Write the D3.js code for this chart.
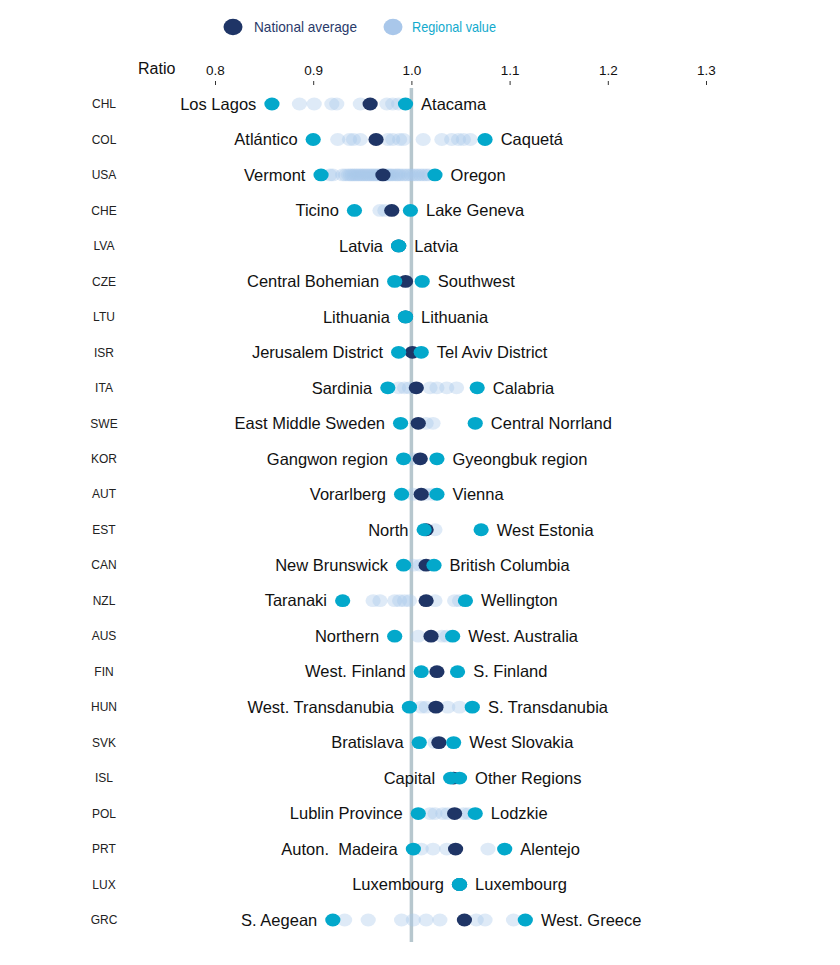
<!DOCTYPE html>
<html><head><meta charset="utf-8">
<script src="https://cdn.jsdelivr.net/npm/d3@7"></script>
<style>
body{margin:0;background:#fff;}
svg{display:block;font-family:"Liberation Sans",Arial,sans-serif;}
</style></head>
<body><svg id="c" width="840" height="965"></svg>
<script>
const countries = ["CHL","COL","USA","CHE","LVA","CZE","LTU","ISR","ITA","SWE","KOR","AUT","EST","CAN","NZL","AUS","FIN","HUN","SVK","ISL","POL","PRT","LUX","GRC"];
const nationalAvg = [0.958,0.964,0.971,0.980,0.987,0.994,0.994,1.001,1.005,1.007,1.009,1.010,1.015,1.015,1.015,1.020,1.026,1.025,1.028,1.043,1.044,1.045,1.049,1.054];
const minRegion = ["Los Lagos","Atlántico","Vermont","Ticino","Latvia","Central Bohemian","Lithuania","Jerusalem District","Sardinia","East Middle Sweden","Gangwon region","Vorarlberg","North","New Brunswick","Taranaki","Northern","West. Finland","West. Transdanubia","Bratislava","Capital","Lublin Province","Auton.  Madeira","Luxembourg","S. Aegean"];
const minValue = [0.858,0.900,0.908,0.942,0.987,0.983,0.994,0.987,0.976,0.989,0.992,0.990,1.013,0.992,0.930,0.983,1.010,0.998,1.008,1.040,1.007,1.002,1.049,0.920];
const maxRegion = ["Atacama","Caquetá","Oregon","Lake Geneva","Latvia","Southwest","Lithuania","Tel Aviv District","Calabria","Central Norrland","Gyeongbuk region","Vienna","West Estonia","British Columbia","Wellington","West. Australia","S. Finland","S. Transdanubia","West Slovakia","Other Regions","Lodzkie","Alentejo","Luxembourg","West. Greece"];
const maxValue = [0.994,1.075,1.024,0.999,0.987,1.011,0.994,1.010,1.067,1.065,1.026,1.026,1.071,1.023,1.055,1.042,1.047,1.062,1.043,1.049,1.065,1.095,1.049,1.116];
const otherRegions = [
  [0.886,0.901,0.919,0.924,0.948,0.975,0.981,0.987],
  [0.925,0.937,0.941,0.948,0.976,0.981,0.988,0.992,1.012,1.031,1.041,1.048,1.053,1.060],
  [0.917,0.920,0.930,0.933,0.936,0.938,0.940,0.942,0.944,0.946,0.948,0.950,0.952,0.954,0.956,0.958,0.960,0.962,0.964,0.966,0.968,0.970,0.973,0.975,0.977,0.979,0.981,0.984,0.986,0.988,0.991,0.994,0.997,1.000,1.003,1.006,1.009,1.012,1.015,1.018],
  [0.968,0.973],
  [],
  [],
  [],
  [],
  [0.987,0.993,0.998,1.019,1.026,1.036,1.046],
  [1.015,1.022],
  [1.002],
  [1.002,1.015,1.021],
  [1.024],
  [1.002,1.009],
  [0.961,0.968,0.983,0.988,0.993,0.998,1.024,1.044,1.049],
  [1.007,1.031,1.036],
  [],
  [1.010,1.015,1.037,1.049],
  [1.024],
  [],
  [1.019,1.024,1.032,1.037,1.053,1.058],
  [1.010,1.022,1.036,1.078],
  [],
  [0.932,0.956,0.990,1.002,1.015,1.029,1.066,1.075,1.104]
];
const tickValues = [0.8,0.9,1.0,1.1,1.2,1.3];
const legendLabels = ["National average","Regional value"];

const NAVY = "#1f3566", CYAN = "#03a8cb", LIGHT = "#a9c7ea", REF = "#b7c7ce";
const svg = d3.select("#c");
const x = d3.scaleLinear().domain([0.8,1.3]).range([215,706]);
const y = d3.scalePoint().domain(countries).range([104,920]);
const RX = 7.6, RY = 6.4;

// legend
const lg = svg.append("g");
lg.append("ellipse").attr("cx",233).attr("cy",27).attr("rx",9.5).attr("ry",8.2).attr("fill",NAVY);
lg.append("text").attr("x",254).attr("y",27).attr("dy","0.35em").attr("font-size",15)
  .attr("textLength",103).attr("lengthAdjust","spacingAndGlyphs").attr("fill","#2a3a6a").text(legendLabels[0]);
lg.append("ellipse").attr("cx",393).attr("cy",27).attr("rx",9.5).attr("ry",8.2).attr("fill",LIGHT);
lg.append("text").attr("x",412).attr("y",27).attr("dy","0.35em").attr("font-size",15)
  .attr("textLength",84).attr("lengthAdjust","spacingAndGlyphs").attr("fill","#12aacd").text(legendLabels[1]);

// axis
const ax = svg.append("g").attr("transform","translate(0,85)")
  .call(d3.axisTop(x).tickValues(tickValues).tickFormat(d3.format(".1f")).tickSize(4).tickPadding(6));
ax.select(".domain").remove();
ax.selectAll("text").attr("font-size",13.5).attr("fill","#111").attr("font-family","Liberation Sans, Arial, sans-serif");
ax.selectAll("line").attr("stroke","#333");
svg.append("text").attr("x",138).attr("y",74).attr("font-size",16).attr("fill","#111").text("Ratio");

// reference line
svg.append("line").attr("x1",x(1)).attr("x2",x(1)).attr("y1",88).attr("y2",942)
  .attr("stroke",REF).attr("stroke-width",3.5);

// country codes
svg.append("g").selectAll("text").data(countries).join("text")
  .attr("x",104).attr("y",d=>y(d)).attr("dy","0.35em").attr("text-anchor","middle")
  .attr("font-size",12).attr("fill","#222").text(d=>d);

const rows = countries.map((c,i)=>({c,i,nat:nationalAvg[i],minV:minValue[i],maxV:maxValue[i],minL:minRegion[i],maxL:maxRegion[i],oth:otherRegions[i]}));

// other regional values
const others = rows.flatMap(r=>r.oth.map(v=>({c:r.c,v})));
svg.append("g").selectAll("ellipse").data(others).join("ellipse")
  .attr("cx",d=>x(d.v)).attr("cy",d=>y(d.c)).attr("rx",RX).attr("ry",RY)
  .attr("fill",LIGHT).attr("fill-opacity",0.38);

// national average
svg.append("g").selectAll("ellipse").data(rows).join("ellipse")
  .attr("cx",d=>x(d.nat)).attr("cy",d=>y(d.c)).attr("rx",RX).attr("ry",RY).attr("fill",NAVY);

// extremes
const ext = rows.flatMap(r=>[{c:r.c,v:r.minV},{c:r.c,v:r.maxV}]);
svg.append("g").selectAll("ellipse").data(ext).join("ellipse")
  .attr("cx",d=>x(d.v)).attr("cy",d=>y(d.c)).attr("rx",RX).attr("ry",RY).attr("fill",CYAN);

// labels
const lab = svg.append("g").attr("font-size",16.5).attr("fill","#111");
lab.selectAll("text.l").data(rows).join("text").attr("class","l")
  .attr("x",d=>x(Math.min(d.minV,d.nat))-RX-8).attr("y",d=>y(d.c)).attr("dy","0.35em")
  .attr("text-anchor","end").attr("xml:space","preserve").text(d=>d.minL);
lab.selectAll("text.r").data(rows).join("text").attr("class","r")
  .attr("x",d=>x(Math.max(d.maxV,d.nat))+RX+8).attr("y",d=>y(d.c)).attr("dy","0.35em")
  .attr("text-anchor","start").text(d=>d.maxL);
</script></body></html>
